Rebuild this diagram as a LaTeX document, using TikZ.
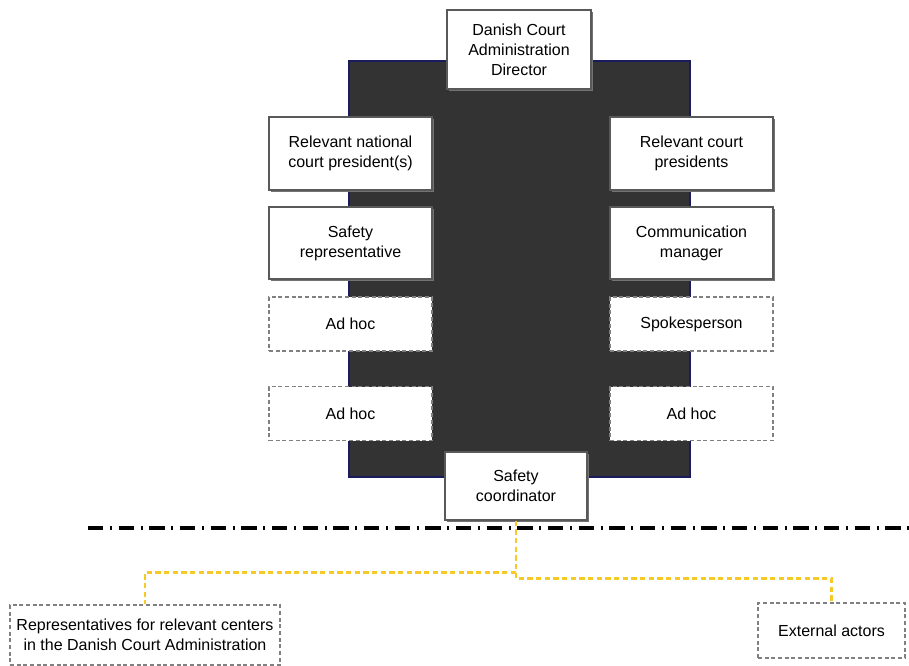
\documentclass[tikz,border=0pt]{standalone}
\usepackage{fontspec}
\setmainfont{Liberation Sans}
\usetikzlibrary{shadows}

\definecolor{panelgray}{HTML}{333333}
\definecolor{panelblue}{HTML}{1A1A5E}
\definecolor{linkyellow}{HTML}{F7C928}

\tikzset{
  role/.style={draw=black!65, fill=white, line width=1pt, align=center,
    minimum width=163*0.75pt, minimum height=73*0.75pt, inner sep=2pt,
    font=\fontsize{12}{15}\selectfont,
    drop shadow={shadow xshift=1.2pt, shadow yshift=-1.2pt, fill=black!55, opacity=1}},
  adhocrole/.style={draw=black!50, fill=white, line width=1.4pt,
    dash pattern=on 3pt off 2pt, align=center,
    minimum width=163*0.75pt, minimum height=54*0.75pt, inner sep=2pt,
    font=\fontsize{12}{15}\selectfont},
  link/.style={draw=linkyellow, line width=2pt, dash pattern=on 4pt off 2.5pt},
}

\begin{document}
\begin{tikzpicture}[x=0.75pt, y=-0.75pt]
  \useasboundingbox (0,0) rectangle (909,666);

  % dark panel behind the team
  \node[draw=panelblue, fill=panelgray, line width=1pt, minimum width=341*0.75pt,
        minimum height=416*0.75pt, inner sep=0pt] (panel) at (519.5,269) {};

  \node[role, minimum width=144*0.75pt, minimum height=79*0.75pt] (director) at (519,49.5)
      {Danish Court\\Administration\\Director};

  % left column
  \node[role] (natpres) at (350.5,153.5) {Relevant national\\court president(s)};
  \node[role, minimum height=72*0.75pt] (safrep) at (350.5,243) {Safety\\representative};
  \node[adhocrole] (adhocA) at (350.5,324) {Ad hoc};
  \node[adhocrole] (adhocB) at (350.5,413.5) {Ad hoc};

  % right column
  \node[role] (courtpres) at (691.5,153.5) {Relevant court\\presidents};
  \node[role, minimum height=72*0.75pt] (comm) at (691.5,243) {Communication\\manager};
  \node[adhocrole] (spokes) at (691.5,324) {Spokesperson};
  \node[adhocrole] (adhocC) at (691.5,413.5) {Ad hoc};

  \node[role, minimum width=142*0.75pt, minimum height=68*0.75pt] (coord) at (516,486)
      {Safety\\coordinator};

  % boundary line
  \coordinate (sepL) at (88,528);
  \coordinate (sepR) at (909,528);
  \draw[line width=3.5pt, dash pattern=on 11.5pt off 5pt on 1.5pt off 5pt] (sepL) -- (sepR);

  % outside actors
  \node[adhocrole, minimum width=270*0.75pt, minimum height=60*0.75pt] (reps) at (145,635)
      {Representatives for relevant centers\\in the Danish Court Administration};
  \node[adhocrole, minimum width=147*0.75pt, minimum height=55*0.75pt] (external) at (831.5,630.5)
      {External actors};

  \draw[link] (coord.south) -- ++(0,52) -| (reps.north);
  \draw[link] (coord.south) -- ++(0,58) -| (external.north);
\end{tikzpicture}
\end{document}
